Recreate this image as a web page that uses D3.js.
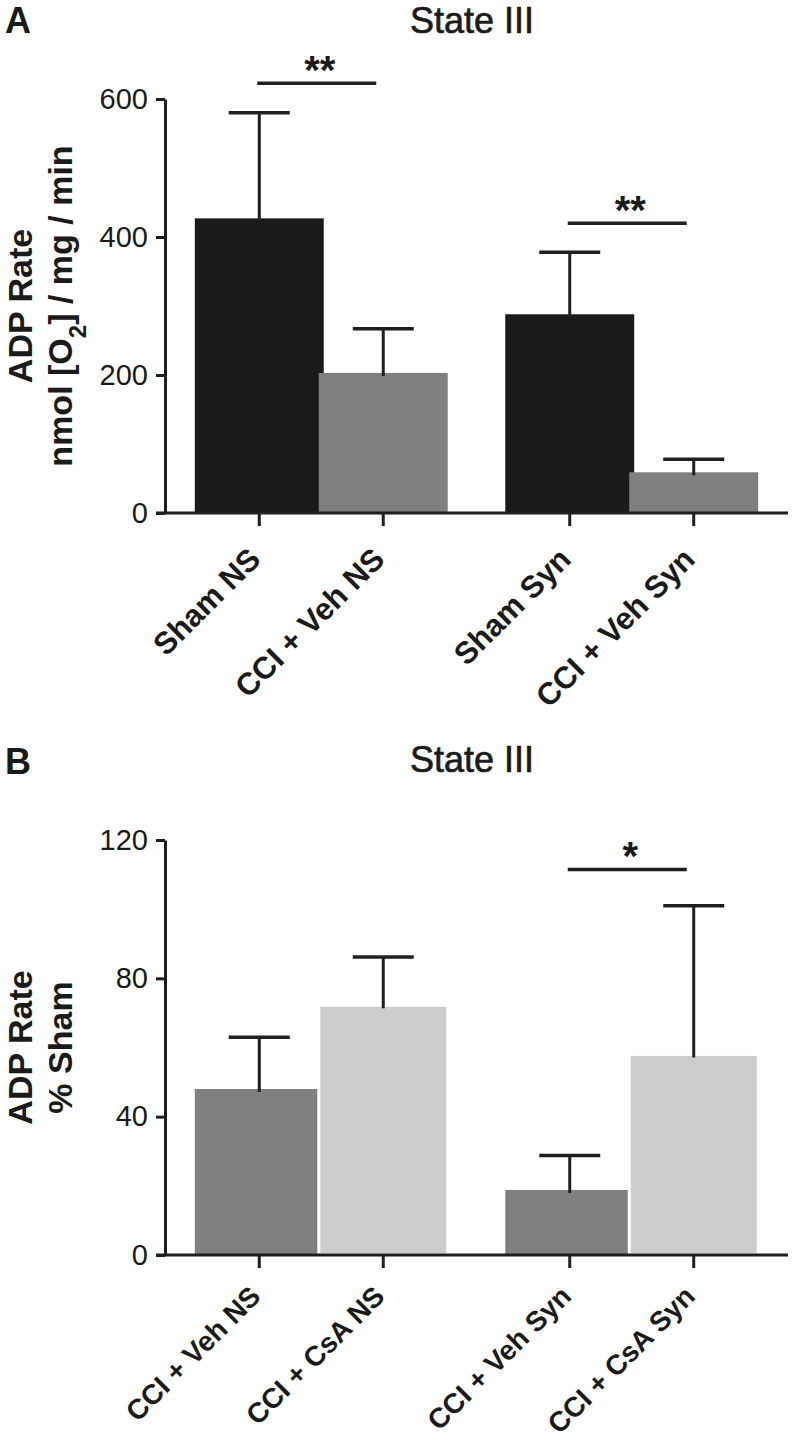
<!DOCTYPE html>
<html>
<head>
<meta charset="utf-8">
<script src="https://cdn.jsdelivr.net/npm/d3@7/dist/d3.min.js"></script>
<style>
  html, body { margin: 0; padding: 0; background: #fff; }
  svg { display: block; }
  text { font-family: "Liberation Sans", Arial, Helvetica, sans-serif; fill: #1a1a1a; }
</style>
</head>
<body>
<svg id="chart" width="792" height="1443"></svg>
<script>
// ---------------- DATA ----------------
// Panel A
const categoriesA = ["Sham NS", "CCI + Veh NS", "Sham Syn", "CCI + Veh Syn"];
const groupsA     = ["NS", "NS", "Syn", "Syn"];
const meansA      = [427, 203, 288, 59];
const errorsA     = [153, 64, 90, 19];
const ticksA      = [0, 200, 400, 600];
const sigPairsA   = [[0, 1], [2, 3]];
const sigLevelsA  = [623, 420];
const sigLabelsA  = ["**", "**"];

// Panel B
const categoriesB = ["CCI + Veh NS", "CCI + CsA NS", "CCI + Veh Syn", "CCI + CsA Syn"];
const groupsB     = ["NS", "NS", "Syn", "Syn"];
const meansB      = [48, 72.2, 18.8, 58];
const errorsB     = [15, 14, 10, 43];
const ticksB      = [0, 40, 80, 120];
const sigPairsB   = [[2, 3]];
const sigLevelsB  = [111.5];
const sigLabelsB  = ["*"];

const titleText = "State III";

// ---------------- DRAW ----------------
const svg = d3.select("#chart");
const INK = "#1f1f1f";

function drawPanel(o) {
  const g = svg.append("g");
  const x0 = 165, x1 = 788;

  const outer = d3.scaleBand().domain(["NS", "Syn"]).range([x0, x1])
    .paddingInner(0.2013).paddingOuter(0.104);
  const inner = d3.scaleBand().domain([0, 1]).range([0, outer.bandwidth()]);
  const cx = i => outer(o.groups[i]) + inner(i % 2) + inner.bandwidth() / 2;

  const y = d3.scaleLinear().domain([0, o.ticks[o.ticks.length - 1]]).range([o.bottom, o.top]);
  const barW = inner.bandwidth() * 1.04;

  // bars
  g.selectAll("rect.bar").data(o.means).join("rect")
    .attr("class", "bar")
    .attr("x", (d, i) => cx(i) - barW / 2)
    .attr("width", barW)
    .attr("y", d => y(d))
    .attr("height", d => y(0) - y(d))
    .attr("fill", (d, i) => o.colors[i])
    .attr("stroke", (d, i) => o.strokes[i])
    .attr("stroke-width", (d, i) => o.strokes[i] === "none" ? 0 : 3);

  // error bars
  const capW = 61;
  o.means.forEach((m, i) => {
    const top = y(m + o.errors[i]);
    g.append("line").attr("x1", cx(i)).attr("x2", cx(i))
      .attr("y1", y(m) + 3).attr("y2", top)
      .attr("stroke", INK).attr("stroke-width", 3);
    g.append("line").attr("x1", cx(i) - capW / 2).attr("x2", cx(i) + capW / 2)
      .attr("y1", top).attr("y2", top)
      .attr("stroke", INK).attr("stroke-width", 3.5);
  });

  // y axis
  const ax = g.append("g").attr("transform", `translate(${x0},0)`)
    .call(d3.axisLeft(y).tickValues(o.ticks).tickSize(9).tickSizeOuter(0).tickPadding(8));
  ax.select(".domain").attr("stroke", INK).attr("stroke-width", 3);
  ax.selectAll(".tick line").attr("stroke", INK).attr("stroke-width", 3);
  ax.selectAll(".tick text")
    .style("font-family", '"Liberation Sans", Arial, sans-serif')
    .style("font-size", "29px").attr("fill", INK);

  // x axis
  g.append("line").attr("x1", x0 - 9).attr("x2", x1)
    .attr("y1", y(0)).attr("y2", y(0))
    .attr("stroke", INK).attr("stroke-width", 3);
  o.categories.forEach((c, i) => {
    g.append("line").attr("x1", cx(i)).attr("x2", cx(i))
      .attr("y1", y(0)).attr("y2", y(0) + 13)
      .attr("stroke", INK).attr("stroke-width", 3);
    g.append("text")
      .attr("transform", `translate(${cx(i) + 3},${y(0) + o.labelOffset}) rotate(-45)`)
      .attr("text-anchor", "end")
      .style("font-size", o.labelSize + "px").style("font-weight", "bold")
      .text(c);
  });

  // significance
  o.sigPairs.forEach((p, k) => {
    const ly = y(o.sigLevels[k]);
    const a = cx(p[0]) - 2, b = cx(p[1]) - 7;
    g.append("line").attr("x1", a).attr("x2", b).attr("y1", ly).attr("y2", ly)
      .attr("stroke", INK).attr("stroke-width", 3.5);
    g.append("text").attr("x", (a + b) / 2 + 3).attr("y", ly + 1)
      .attr("text-anchor", "middle")
      .style("font-size", "40px").style("font-weight", "bold")
      .text(o.sigLabels[k]);
  });

  // title
  g.append("text").attr("x", 410).attr("y", o.titleY)
    .style("font-size", "36px").attr("stroke", INK).attr("stroke-width", 0.7)
    .attr("fill", INK)
    .text(titleText);

  // panel letter
  g.append("text").attr("x", 5).attr("y", o.letterY)
    .style("font-size", "36px").style("font-weight", "bold")
    .attr("fill", "#000")
    .text(o.letter);

  // y label
  const midY = (o.top + o.bottom) / 2;
  o.ylabel.forEach((line, k) => {
    const t = g.append("text")
      .attr("transform", `translate(${o.ylabelX[k]},${midY}) rotate(-90)`)
      .attr("text-anchor", "middle")
      .style("font-size", "34px").style("font-weight", "bold");
    line.forEach(seg => {
      const ts = t.append("tspan").text(seg.t);
      if (seg.sub) ts.attr("baseline-shift", "sub").style("font-size", "24px");
    });
  });
}

drawPanel({
  letter: "A", letterY: 33, titleY: 33,
  categories: categoriesA, groups: groupsA, means: meansA, errors: errorsA,
  ticks: ticksA, top: 99, bottom: 513,
  colors: ["#1a1a1a", "#7f7f7f", "#1a1a1a", "#7f7f7f"],
  strokes: ["none", "none", "none", "none"],
  sigPairs: sigPairsA, sigLevels: sigLevelsA, sigLabels: sigLabelsA,
  ylabel: [[{t: "ADP Rate"}], [{t: "nmol [O"}, {t: "2", sub: true}, {t: "] / mg / min"}]],
  ylabelX: [32, 72],
  labelSize: 31, labelOffset: 48
});

drawPanel({
  letter: "B", letterY: 774, titleY: 772,
  categories: categoriesB, groups: groupsB, means: meansB, errors: errorsB,
  ticks: ticksB, top: 840, bottom: 1255,
  colors: ["#7f7f7f", "#cccccc", "#7f7f7f", "#cccccc"],
  strokes: ["none", "#ffffff", "none", "#ffffff"],
  sigPairs: sigPairsB, sigLevels: sigLevelsB, sigLabels: sigLabelsB,
  ylabel: [[{t: "ADP Rate"}], [{t: "% Sham"}]],
  ylabelX: [32, 72],
  labelSize: 28, labelOffset: 43
});
</script>
</body>
</html>
